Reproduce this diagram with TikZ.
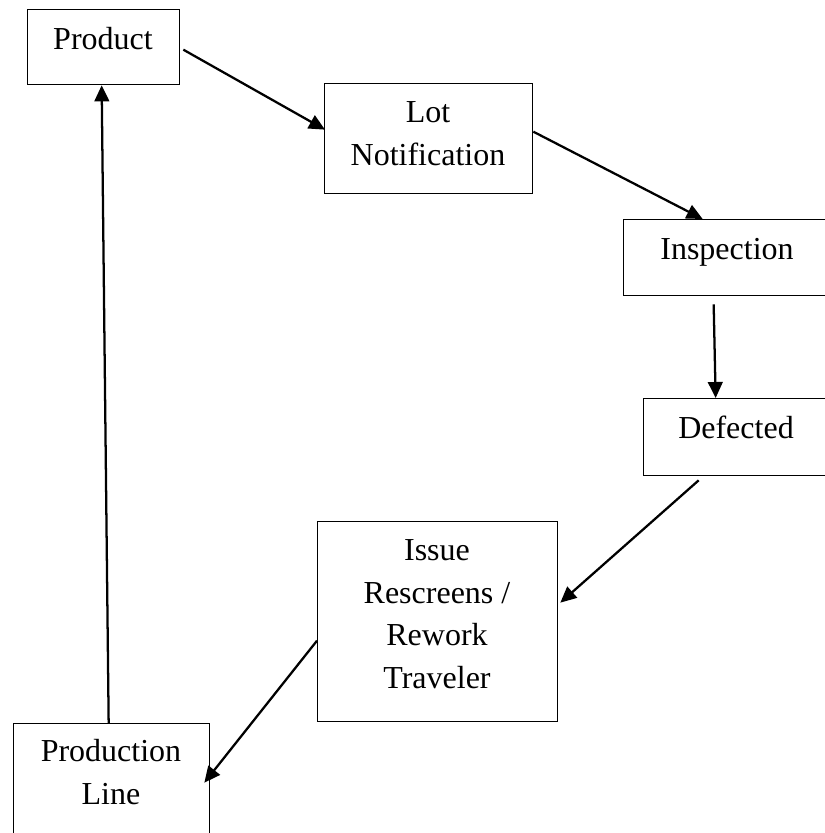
\documentclass[tikz,border=0pt]{standalone}
\usepackage{fontspec}
\setmainfont{Liberation Serif}
\usetikzlibrary{arrows.meta,calc}
\newcommand\pxu{0.75pt}
\begin{document}
\begin{tikzpicture}[x=0.75pt,y=-0.75pt,
  boxnode/.style={draw=black,line width=1pt,rectangle,inner sep=0pt,anchor=north west},
  txt/.style={inner sep=0pt,align=center,anchor=base,font=\fontsize{24}{31.8}\selectfont},
  conn/.style={draw=black,line width=1.7pt,-{Triangle[length=12pt,width=11pt]}}]
\useasboundingbox (0,0) rectangle (825,833);
\clip (0,0) rectangle (825,833);
\fill[white] (0,0) rectangle (825,833);
% boxes
\node[boxnode,minimum width=152*\pxu,minimum height=75*\pxu] (product) at (27,9) {};
\node[boxnode,minimum width=208*\pxu,minimum height=110*\pxu] (lot) at (324,83) {};
\node[boxnode,minimum width=208*\pxu,minimum height=76*\pxu] (insp) at (623,219) {};
\node[boxnode,minimum width=188*\pxu,minimum height=77*\pxu] (def) at (643,398) {};
\node[boxnode,minimum width=240*\pxu,minimum height=200*\pxu] (issue) at (317,521) {};
\node[boxnode,minimum width=196*\pxu,minimum height=150*\pxu] (prod) at (13,723) {};
% texts (anchor=base is the baseline of the last line)
\node[txt] (productT) at (103,49) {Product};
\node[txt] (lotT) at (428,165) {Lot\\Notification};
\node[txt] (inspT) at (727,259) {Inspection};
\node[txt] (defT) at (736,438) {Defected};
\node[txt] (issueT) at (437,688) {Issue\\Rescreens /\\Rework\\Traveler};
\node[txt] (prodT) at (111,804) {Production\\Line};
% connectors
\draw[conn] ($(product.east)+(3,2.5)$) -- ($(lot.west)+(1,-9)$);
\draw[conn] ($(lot.east)+(0,-7)$) -- ($(insp.north)+(-25,0)$);
\draw[conn] ($(insp.south)+(-14,8)$) -- ($(def.north)+(-22,0)$);
\draw[conn] ($(def.south)+(-39,4)$) -- ($(issue.east)+(2,-19)$);
\draw[conn] ($(issue.west)+(0,19)$) -- ($(prod.east)+(-6,-16)$);
\draw[conn] ($(prod.north)+(-3,0)$) -- ($(product.south)+(-2,0)$);
\end{tikzpicture}
\end{document}
